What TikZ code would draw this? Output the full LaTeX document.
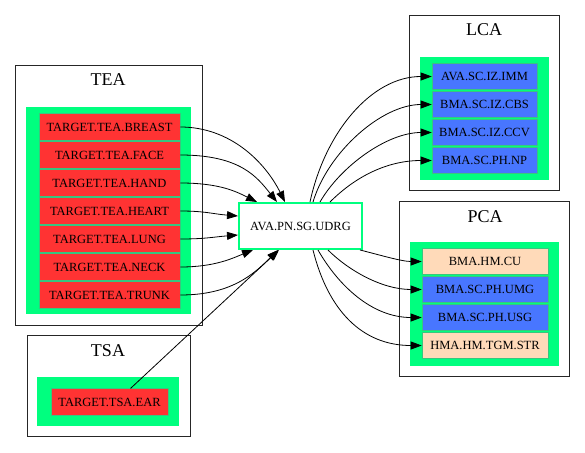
\documentclass[tikz,border=0pt]{standalone}
\usepackage{fontspec}
\setmainfont{Liberation Serif}
\usetikzlibrary{arrows.meta,calc}

\definecolor{springgreen}{HTML}{00FF7F}
\definecolor{targetred}{HTML}{FF3333}
\definecolor{itemblue}{HTML}{4876FF}
\definecolor{peach}{HTML}{FFDAB9}

\begin{document}
\begin{tikzpicture}[
  x=1pt, y=-1pt,
  font=\fontsize{12.5}{14}\selectfont,
  >={Triangle[length=11pt,width=8pt]}, line width=0.8pt,
  cluster/.style={draw=black!85, line width=0.8pt},
  pack/.style={fill=springgreen},
  title/.style={font=\fontsize{18}{20}\selectfont},
  item/.style={draw=springgreen!55!gray, line width=0.6pt,
    minimum height=26.5pt, inner sep=0pt},
  teaitem/.style={item, fill=targetred, minimum width=141pt},
  tsaitem/.style={item, fill=targetred, minimum width=117pt},
  lcaitem/.style={item, fill=itemblue, minimum width=105pt},
  pcaitem/.style={item, fill=#1, minimum width=126pt}
]
\useasboundingbox (0,0) rectangle (585,452);

% clusters
\draw[cluster] (15,65) rectangle (202,325);
\node[title] (teatitle) at (108,80) {TEA};
\fill[pack] (26,107) rectangle (191,314);

\draw[cluster] (27,335) rectangle (190,436);
\node[title] (tsatitle) at (108,351) {TSA};
\fill[pack] (37,377) rectangle (179,426);

\draw[cluster] (409,15) rectangle (559,190);
\node[title] (lcatitle) at (484,30) {LCA};
\fill[pack] (420,57) rectangle (549,180);

\draw[cluster] (399,201) rectangle (569,376);
\node[title] (pcatitle) at (485,217) {PCA};
\fill[pack] (410,242) rectangle (559,366);

% nodes
\foreach \n [count=\i from 0] in {BREAST,FACE,HAND,HEART,LUNG,NECK,TRUNK} {
  \node[teaitem] (tea\i) at (109.5,{127+28*\i}) {TARGET.TEA.\n};
}
\node[tsaitem] (ear) at (109.5,402) {TARGET.TSA.EAR};

\node[lcaitem] (imm) at (484.5,76.5) {AVA.SC.IZ.IMM};
\node[lcaitem] (cbs) at (484.5,104.5) {BMA.SC.IZ.CBS};
\node[lcaitem] (ccv) at (484.5,132.5) {BMA.SC.IZ.CCV};
\node[lcaitem] (np) at (484.5,160.5) {BMA.SC.PH.NP};

\node[pcaitem=peach] (cu) at (485,261.5) {BMA.HM.CU};
\node[pcaitem=itemblue] (umg) at (485,289.5) {BMA.SC.PH.UMG};
\node[pcaitem=itemblue] (usg) at (485,317.5) {BMA.SC.PH.USG};
\node[pcaitem=peach] (str) at (485,345.5) {HMA.HM.TGM.STR};

\node[draw=springgreen, line width=2pt, fill=white, minimum width=123pt,
  minimum height=46pt] (udrg) at (300.5,226) {AVA.PN.SG.UDRG};

% edges into the hub
\draw[->] (tea0.east) .. controls +(50,0) and +(-20,-40) .. ($(udrg.north west)+(47,0)$);
\draw[->] (tea1.east) .. controls +(60,0) and +(-20,-25) .. ($(udrg.north west)+(39,0)$);
\draw[->] (tea2.east) .. controls +(40,0) and +(-20,-10) .. ($(udrg.north west)+(19,0)$);
\draw[->] (tea3.east) .. controls +(25,0) and +(-25,-2) .. ($(udrg.north west)+(0,14)$);
\draw[->] (tea4.east) .. controls +(25,0) and +(-25,2) .. ($(udrg.north west)+(0,33)$);
\draw[->] (tea5.east) .. controls +(35,0) and +(-20,8) .. ($(udrg.south west)+(15,0)$);
\draw[->] (tea6.east) .. controls +(50,0) and +(-25,25) .. ($(udrg.south west)+(40,0)$);
\draw[->] ($(ear.north)+(21,0)$) -- ($(udrg.south west)+(41,0)$);

% edges out of the hub
\draw[->] ($(udrg.north west)+(72,0)$) .. controls +(15,-70) and +(-60,0) .. (imm.west);
\draw[->] ($(udrg.north west)+(75,0)$) .. controls +(15,-50) and +(-50,0) .. (cbs.west);
\draw[->] ($(udrg.north west)+(82,0)$) .. controls +(20,-35) and +(-45,0) .. (ccv.west);
\draw[->] ($(udrg.north west)+(92,0)$) .. controls +(25,-25) and +(-45,0) .. (np.west);

\draw[->] ($(udrg.south east)+(-3,0)$) .. controls +(20,5) and +(-20,0) .. (cu.west);
\draw[->] ($(udrg.south west)+(90,0)$) .. controls +(20,20) and +(-40,0) .. (umg.west);
\draw[->] ($(udrg.south west)+(80,0)$) .. controls +(20,35) and +(-50,0) .. (usg.west);
\draw[->] ($(udrg.south west)+(75,0)$) .. controls +(15,60) and +(-60,0) .. (str.west);
\end{tikzpicture}
\end{document}
